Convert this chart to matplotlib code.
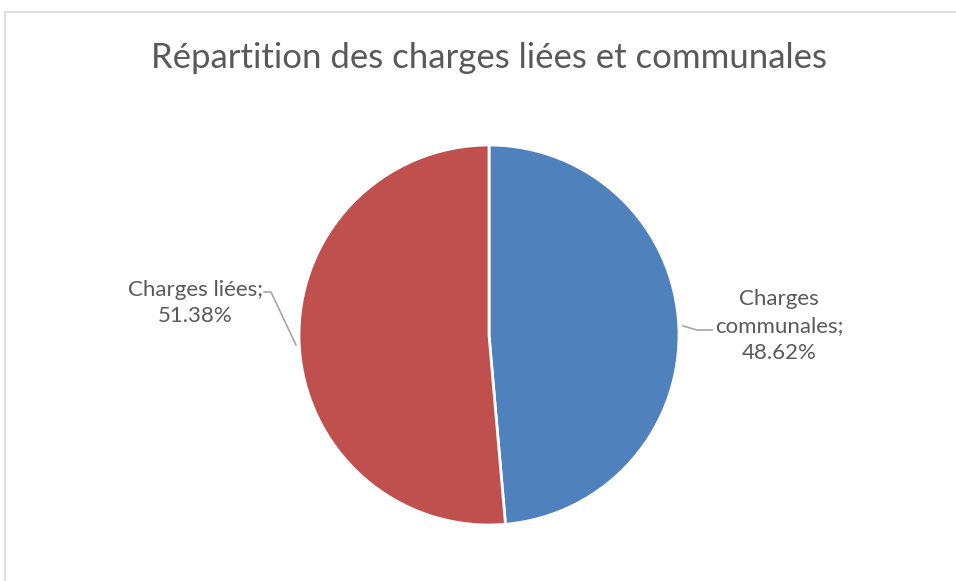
import matplotlib.pyplot as plt
from matplotlib.lines import Line2D

W, H = 956, 581

labels = ['Charges\ncommunales;', 'Charges liées;']
values = [48.62, 51.38]
colors = ['#4F81BD', '#C0504D']

plt.rcParams['font.family'] = ['Lato', 'DejaVu Sans']
text_col = '#595959'


def fx(x):
    return x / W


def fy(y):
    return 1 - y / H


fig = plt.figure(figsize=(W / 100, H / 100), dpi=100)

# chart frame (light gray, cut at right and bottom)
fig.add_artist(Line2D([fx(4.5), 1], [fy(11.5), fy(11.5)], color='#D9D9D9', lw=1.2))
fig.add_artist(Line2D([fx(4.5), fx(4.5)], [fy(11.5), 0], color='#D9D9D9', lw=1.2))

fig.text(fx(489), fy(58), 'Répartition des charges liées et communales',
         ha='center', va='center', fontsize=25, color=text_col)

cx, cy, r = 489, 335, 190
ax = fig.add_axes([fx(cx - r), fy(cy + r), 2 * r / W, 2 * r / H])
ax.pie(values, colors=colors, startangle=90, counterclock=False,
       wedgeprops=dict(edgecolor='white', linewidth=2))
ax.set_xlim(-1, 1)
ax.set_ylim(-1, 1)
ax.axis('off')

# data labels
fig.text(fx(779), fy(326), '%s\n%.2f%%' % (labels[0], values[0]),
         ha='center', va='center', fontsize=16, color=text_col, linespacing=1.42)
fig.text(fx(195), fy(303), '%s\n%.2f%%' % (labels[1], values[1]),
         ha='center', va='center', fontsize=16, color=text_col, linespacing=1.42)

# leader lines
lc = '#A6A6A6'
fig.add_artist(Line2D([fx(264), fx(271), fx(296)], [fy(292), fy(292), fy(345)], color=lc, lw=1.2))
fig.add_artist(Line2D([fx(683), fx(697), fx(712)], [fy(326), fy(330), fy(330)], color=lc, lw=1.2))

fig.savefig('out.png', dpi=100, facecolor='white')
